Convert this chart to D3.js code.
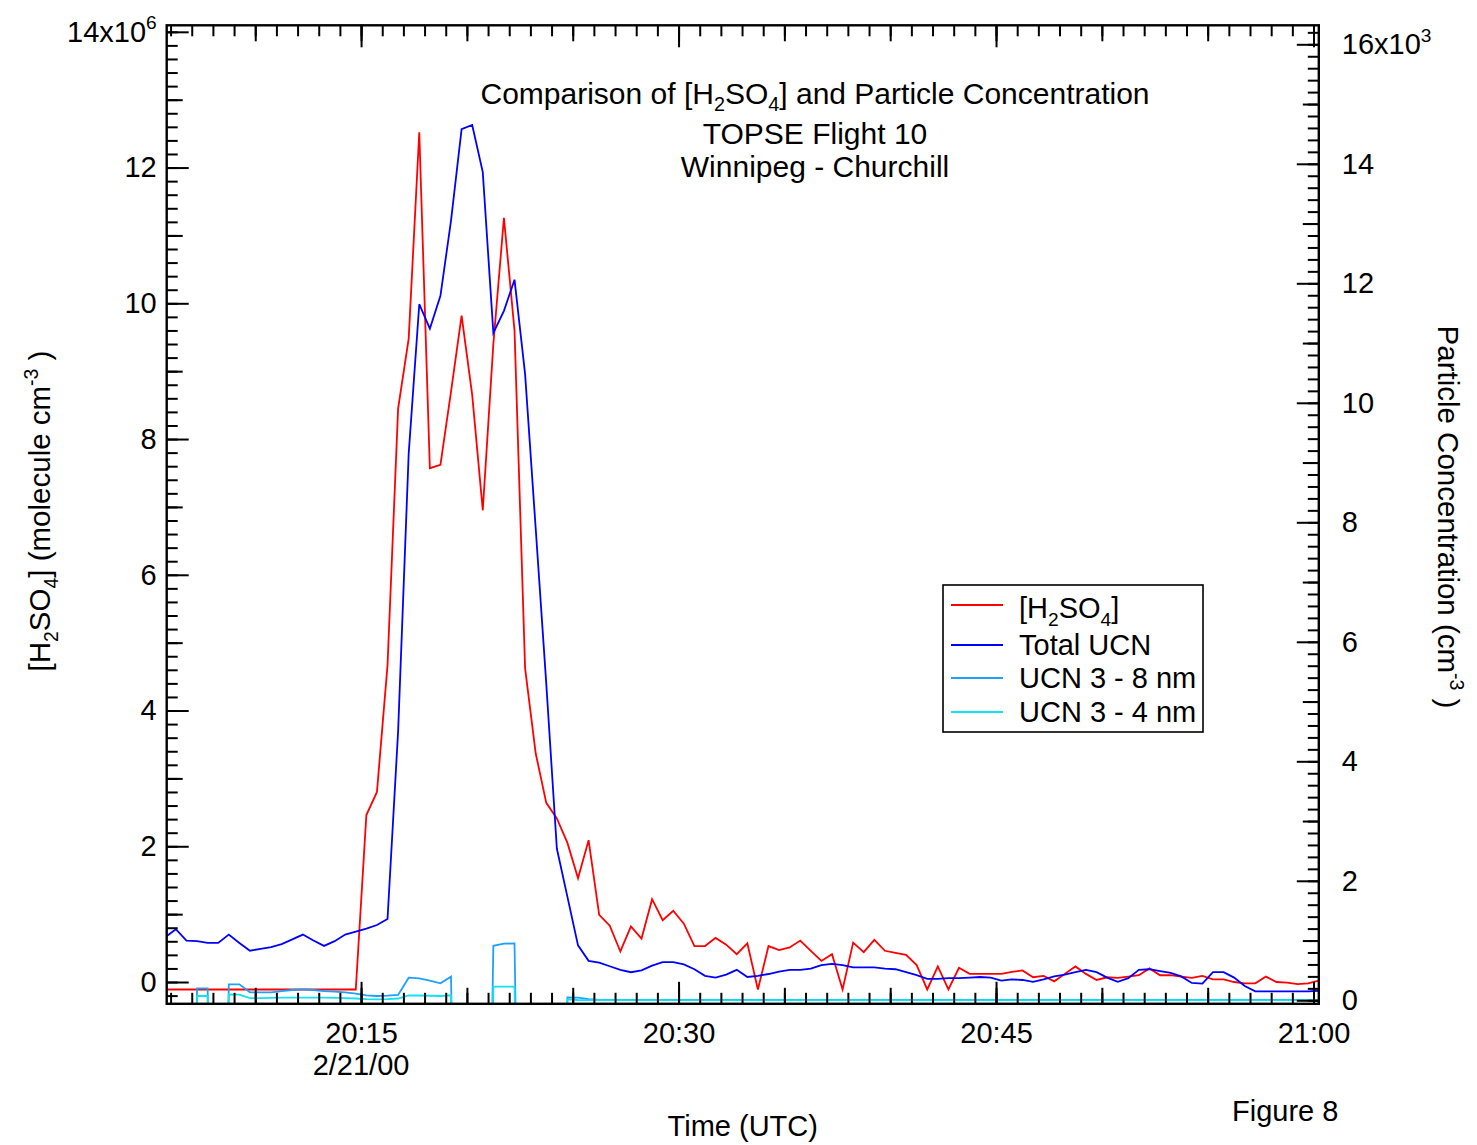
<!DOCTYPE html>
<html><head><meta charset="utf-8">
<script src="https://cdn.jsdelivr.net/npm/d3@7"></script>
<style>
body{margin:0;background:#fff;}
svg{display:block;font-family:"Liberation Sans",Arial,Helvetica,sans-serif;}
text{white-space:pre;}
</style></head><body>
<svg id="chart" width="1477" height="1145"></svg>
<script>
// ---------------- DATA ----------------
const flightDate = "2000-02-21";
const dateLabel = "2/21/00";
const M = -9999; // missing-value flag in the particle data

const times = [
"20:05:45","20:06:15","20:06:45","20:07:15","20:07:45","20:08:15","20:08:45","20:09:15","20:09:45","20:10:15",
"20:10:45","20:11:15","20:11:45","20:12:15","20:12:45","20:13:15","20:13:45","20:14:15","20:14:45","20:15:15",
"20:15:45","20:16:15","20:16:45","20:17:15","20:17:45","20:18:15","20:18:45","20:19:15","20:19:45","20:20:15",
"20:20:45","20:21:15","20:21:45","20:22:15","20:22:45","20:23:15","20:23:45","20:24:15","20:24:45","20:25:15",
"20:25:45","20:26:15","20:26:45","20:27:15","20:27:45","20:28:15","20:28:45","20:29:15","20:29:45","20:30:15",
"20:30:45","20:31:15","20:31:45","20:32:15","20:32:45","20:33:15","20:33:45","20:34:15","20:34:45","20:35:15",
"20:35:45","20:36:15","20:36:45","20:37:15","20:37:45","20:38:15","20:38:45","20:39:15","20:39:45","20:40:15",
"20:40:45","20:41:15","20:41:45","20:42:15","20:42:45","20:43:15","20:43:45","20:44:15","20:44:45","20:45:15",
"20:45:45","20:46:15","20:46:45","20:47:15","20:47:45","20:48:15","20:48:45","20:49:15","20:49:45","20:50:15",
"20:50:45","20:51:15","20:51:45","20:52:15","20:52:45","20:53:15","20:53:45","20:54:15","20:54:45","20:55:15",
"20:55:45","20:56:15","20:56:45","20:57:15","20:57:45","20:58:15","20:58:45","20:59:15","20:59:45","21:00:15"];

// [H2SO4] in units of 10^6 molecule cm-3
const h2so4 = [
-0.11,-0.11,-0.11,-0.11,-0.11,-0.11,-0.11,-0.11,-0.11,-0.11,
-0.11,-0.11,-0.11,-0.11,-0.11,-0.11,-0.11,-0.11,-0.11,2.46,
2.8,4.67,8.45,9.48,12.52,7.57,7.62,8.7,9.82,8.65,
6.95,9.4,11.26,9.6,4.62,3.37,2.64,2.41,2.05,1.53,
2.09,0.99,0.83,0.45,0.82,0.64,1.22,0.91,1.05,0.86,
0.53,0.53,0.65,0.55,0.41,0.57,-0.11,0.53,0.47,0.51,
0.61,0.46,0.31,0.41,-0.11,0.58,0.44,0.62,0.46,0.43,
0.40,0.25,-0.11,0.23,-0.11,0.21,0.12,0.12,0.12,0.12,
0.15,0.17,0.07,0.09,0.01,0.12,0.23,0.12,0.03,0.07,
0.06,0.08,0.10,0.20,0.10,0.10,0.08,0.06,0.09,0.04,
0.04,0.00,-0.02,-0.02,0.08,0.00,-0.01,-0.03,-0.02,0.02];

// Total UCN, cm-3
const totalUCN = [
1055,1190,1000,990,960,960,1100,960,830,860,
890,940,1020,1100,1000,910,990,1100,1150,1200,
1260,1360,4500,9150,11650,11240,11790,13050,14580,14650,
13860,11170,11540,12060,10480,7900,5300,2540,1730,920,
660,630,570,510,470,500,580,640,640,600,
520,410,380,430,510,390,410,440,480,510,
510,530,590,610,590,550,550,550,530,520,
470,420,360,360,370,370,380,390,380,330,
350,340,310,350,400,430,470,510,470,380,
310,370,510,520,490,460,400,290,280,470,
470,380,240,150,150,150,150,150,150,160];

// UCN 3 - 8 nm, cm-3
const ucn3to8 = [
M,M,M,200,200,M,267,267,134,134,
132,155,172,184,172,155,145,134,110,84,
72,78,89,378,368,328,284,395,M,M,
M,913,947,953,M,M,M,M,50,45,
20,8,8,8,8,8,8,8,8,8,
8,8,8,8,8,8,8,8,8,8,
8,8,8,8,8,8,8,8,8,8,
8,8,8,8,8,8,8,8,8,8,
8,8,8,8,8,8,8,8,8,8,
8,8,8,8,8,8,8,8,8,8,
8,8,8,8,8,8,8,8,8,8];

// UCN 3 - 4 nm, cm-3
const ucn3to4 = [
M,M,M,72,72,M,100,95,38,38,
42,44,44,46,46,44,40,36,30,20,
17,18,30,84,80,76,72,84,M,M,
M,228,230,230,M,M,M,M,15,5,
3,3,3,3,3,3,3,3,3,3,
3,3,3,3,3,3,3,3,3,3,
3,3,3,3,3,3,3,3,3,3,
3,3,3,3,3,3,3,3,3,3,
3,3,3,3,3,3,3,3,3,3,
3,3,3,3,3,3,3,3,3,3,
3,3,3,3,3,3,3,3,3,3];

const seriesNames = ["[H{_2}SO{_4}]", "Total UCN", "UCN 3 - 8 nm", "UCN 3 - 4 nm"];
const seriesColors = ["#ff0000", "#0000ff", "#1ea0ff", "#10e2f2"];
const leftTickValues = [0,2,4,6,8,10,12,14];
const rightTickValues = [0,2000,4000,6000,8000,10000,12000,14000,16000];
const timeTickLabels = ["20:15","20:30","20:45","21:00"];
const titleLines = ["Comparison of [H{_2}SO{_4}] and Particle Concentration", "TOPSE Flight 10", "Winnipeg - Churchill"];
const leftTitle = "[H{_2}SO{_4}] (molecule cm{^-3} )";
const rightTitle = "Particle Concentration (cm{^-3} )";
const xTitle = "Time (UTC)";
const figLabel = "Figure 8";

// ---------------- LAYOUT ----------------
const FS = 29;
const FT = 30;
const P = {left:166.7, right:1318.8, top:25.3, bottom:1003.8};
const parseT = d3.timeParse("%Y-%m-%d %H:%M:%S");
const T = s => parseT(flightDate + " " + s);

const x = d3.scaleTime().domain([T("20:05:49"), T("21:00:15")]).range([P.left, P.right]);
const yL = d3.scaleLinear().domain([-0.321, 14.096]).range([P.bottom, P.top]);
const yR = d3.scaleLinear().domain([-58.6, 16318]).range([P.bottom, P.top]);

const svg = d3.select("#chart");

function rich(sel, str, base) {
  const parts = str.split(/(\{[_^][^}]*\})/).filter(s => s.length);
  let shift = 0;
  parts.forEach(p => {
    const m = p.match(/^\{([_^])(.*)\}$/);
    if (m) {
      const d = m[1] === "_" ? base*0.26 : -base*0.42;
      sel.append("tspan").attr("font-size", base*0.66).attr("dy", d - shift).text(m[2]);
      shift = d;
    } else {
      sel.append("tspan").attr("font-size", base).attr("dy", shift ? -shift : null).text(p);
      shift = 0;
    }
  });
}

// clip
svg.append("clipPath").attr("id","plotclip").append("rect")
  .attr("x",P.left).attr("y",P.top).attr("width",P.right-P.left).attr("height",P.bottom-P.top);

// data lines
const seriesData = [
  {vals:h2so4, y:yL},
  {vals:totalUCN, y:yR},
  {vals:ucn3to8, y:yR},
  {vals:ucn3to4, y:yR}
];
const gLines = svg.append("g").attr("clip-path","url(#plotclip)");
seriesData.forEach((s,k) => {
  const pts = times.map((t,i) => ({t:T(t), v:s.vals[i]}));
  gLines.append("path").datum(pts)
    .attr("fill","none").attr("stroke",seriesColors[k]).attr("stroke-width",1.8)
    .attr("stroke-linejoin","miter")
    .attr("d", d3.line().x(d => x(d.t)).y(d => s.y(d.v)));
});

// axes helpers
function styleAxis(g){
  g.select(".domain").remove();
  g.attr("font-size", FS).attr("font-family", null);
  g.selectAll(".tick line").attr("stroke","#000").attr("stroke-width",2);
  g.selectAll(".tick text").attr("fill","#000");
}
const tickLevels = [
  {every: 1, size: 11},
  {every: 5, size: 16},
  {every: 15, size: 22}
];
// bottom & top time axes
tickLevels.forEach(lv => {
  const vals = x.ticks(d3.timeMinute.every(lv.every));
  const major = lv.every === 15;
  const gb = svg.append("g").attr("transform",`translate(0,${P.bottom})`)
    .call(d3.axisBottom(x).tickValues(vals).tickSizeInner(-lv.size).tickSizeOuter(0).tickPadding(19)
      .tickFormat(major ? (d => { const s = d3.timeFormat("%H:%M")(d); return timeTickLabels.includes(s) ? s : ""; }) : ""));
  styleAxis(gb);
  const gt = svg.append("g").attr("transform",`translate(0,${P.top})`)
    .call(d3.axisTop(x).tickValues(vals).tickSizeInner(-lv.size).tickSizeOuter(0).tickFormat(""));
  styleAxis(gt);
});
// date under first label
svg.append("text").attr("x", x(T("20:15:00"))).attr("y", 1075).attr("text-anchor","middle")
  .attr("font-size",FS).text(dateLabel);

// left axis
const leftLevels = [
  {vals: d3.range(-0.2, 14.05, 0.2), size: 11, lab:false},
  {vals: d3.range(1, 14, 2), size: 16, lab:false},
  {vals: leftTickValues, size: 22, lab:true}
];
leftLevels.forEach(lv => {
  const g = svg.append("g").attr("transform",`translate(${P.left},0)`)
    .call(d3.axisLeft(yL).tickValues(lv.vals).tickSizeInner(-lv.size).tickSizeOuter(0).tickPadding(10)
      .tickFormat(lv.lab ? (d => d) : ""));
  styleAxis(g);
  if (lv.lab) {
    g.selectAll(".tick text").each(function(d){
      if (d === 14) { const t = d3.select(this); t.text(null); rich(t, "14x10{^6}", FS); }
    });
  }
});
// right axis
const rightLevels = [
  {vals: d3.range(0, 16201, 200), size: 11, lab:false},
  {vals: d3.range(1000, 16000, 2000), size: 16, lab:false},
  {vals: rightTickValues, size: 22, lab:true}
];
rightLevels.forEach(lv => {
  const g = svg.append("g").attr("transform",`translate(${P.right},0)`)
    .call(d3.axisRight(yR).tickValues(lv.vals).tickSizeInner(-lv.size).tickSizeOuter(0).tickPadding(23)
      .tickFormat(lv.lab ? (d => d/1000) : ""));
  styleAxis(g);
  if (lv.lab) {
    g.selectAll(".tick text").each(function(d){
      if (d === 16000) { const t = d3.select(this); t.text(null); rich(t, "16x10{^3}", FS); }
    });
  }
});

// frame
svg.append("rect").attr("x",P.left).attr("y",P.top).attr("width",P.right-P.left).attr("height",P.bottom-P.top)
  .attr("fill","none").attr("stroke","#000").attr("stroke-width",2.4);

// titles
const titleY = [103.5, 143.5, 176.5];
titleLines.forEach((s,i) => {
  const t = svg.append("text").attr("x",815).attr("y",titleY[i]).attr("text-anchor","middle").attr("font-size",FT);
  rich(t, s, FT);
});
const lt = svg.append("text").attr("transform","translate(50,511) rotate(-90)").attr("text-anchor","middle").attr("font-size",29.5);
rich(lt, leftTitle, 29.5);
const rt = svg.append("text").attr("transform","translate(1438,517) rotate(90)").attr("text-anchor","middle").attr("font-size",29.5);
rich(rt, rightTitle, 29.5);
svg.append("text").attr("x",(P.left+P.right)/2).attr("y",1135.5).attr("text-anchor","middle").attr("font-size",FS).text(xTitle);
svg.append("text").attr("x",1232).attr("y",1120.5).attr("font-size",FS).text(figLabel);

// legend
const lg = svg.append("g");
lg.append("rect").attr("x",943).attr("y",585).attr("width",260).attr("height",147)
  .attr("fill","#fff").attr("stroke","#000").attr("stroke-width",1.6);
const legLineY = [605, 645, 678, 712];
const legTextY = [618, 654.5, 687.5, 721.5];
seriesNames.forEach((nm,i) => {
  lg.append("line").attr("x1",951).attr("x2",1003).attr("y1",legLineY[i]).attr("y2",legLineY[i])
    .attr("stroke",seriesColors[i]).attr("stroke-width",1.8);
  const t = lg.append("text").attr("x",1019).attr("y",legTextY[i]).attr("font-size",FS);
  rich(t, nm, FS);
});
</script>
</body></html>
